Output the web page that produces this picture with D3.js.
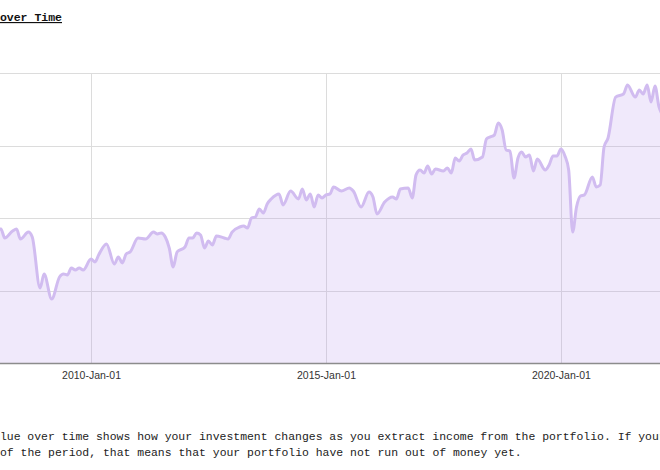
<!DOCTYPE html>
<html>
<head>
<meta charset="utf-8">
<script src="https://cdn.jsdelivr.net/npm/d3@7"></script>
<style>
  html, body { margin: 0; padding: 0; background: #fff; overflow: hidden; }
  svg { display: block; }
</style>
</head>
<body>
<svg id="chart" width="660" height="470"></svg>
<script>
// ---- DATA ----
const titleText = "Portfolio Value over Time";
const descLine1 = "The portfolio value over time shows how your investment changes as you extract income from the portfolio. If your portfolio still has value at the end";
const descLine2 = "of the period, that means that your portfolio have not run out of money yet.";

const dates = [
  "2007-12","2008-02","2008-03","2008-05","2008-06","2008-07","2008-09","2008-10","2008-12",
  "2009-01","2009-03","2009-05","2009-06","2009-07","2009-08","2009-09","2009-10","2009-11",
  "2010-01","2010-02","2010-03","2010-05","2010-07","2010-08","2010-09","2010-10","2010-11",
  "2011-01","2011-03","2011-05","2011-06","2011-07","2011-08","2011-09","2011-10","2011-11",
  "2012-01","2012-02","2012-03","2012-04","2012-05","2012-06","2012-07","2012-08","2012-09","2012-11","2012-12",
  "2013-01","2013-03","2013-04","2013-05","2013-06","2013-07","2013-08","2013-09","2013-10","2013-11",
  "2014-01","2014-02","2014-04","2014-06","2014-07","2014-08","2014-09","2014-10","2014-11","2014-12",
  "2015-01","2015-02","2015-03","2015-05","2015-07","2015-08","2015-10","2015-12",
  "2016-01","2016-02","2016-04","2016-06","2016-07","2016-08","2016-10","2016-11","2016-12",
  "2017-01","2017-02","2017-03","2017-04","2017-05","2017-07","2017-08","2017-09","2017-10","2017-11","2017-12",
  "2018-01","2018-02","2018-03","2018-05","2018-06","2018-07","2018-08","2018-09","2018-10","2018-11","2018-12",
  "2019-01","2019-02","2019-03","2019-04","2019-05","2019-06","2019-07","2019-09","2019-10","2019-11","2019-12",
  "2020-01","2020-02","2020-03","2020-04","2020-05","2020-06","2020-07","2020-09","2020-10","2020-11","2020-12",
  "2021-01","2021-03","2021-05","2021-06","2021-08","2021-09","2021-10","2021-11","2021-12",
  "2022-01","2022-02","2022-03"
];
const values = [
  90300,92400,86200,91000,92400,85500,90300,86900,51700,
  61400,44100,59300,61400,60700,65500,64100,65500,64100,
  71700,69700,74500,82100,68300,73100,69000,75200,76600,
  86200,85500,90300,89000,89700,86900,79300,66200,76600,
  80000,86200,86200,89700,88300,79300,84100,81400,87600,86200,85500,
  90300,93800,94500,93100,100000,100700,106200,103400,109700,113100,
  116600,109000,118600,113100,120000,112400,116600,107600,115900,113800,
  115900,116600,121400,118600,120700,118600,107600,117900,
  114500,102800,111000,114500,113100,120000,120700,113800,129700,
  133100,131000,135900,130300,133800,132400,134500,131000,141400,139300,143400,
  144800,147600,140000,142100,154500,155900,157200,165500,160700,146900,146200,
  127600,141400,145500,142100,143400,132400,140700,133100,136600,142800,142800,
  147600,142800,133100,90300,107600,115200,115900,128300,121400,122800,149000,
  155200,183400,185500,191700,183400,188300,185500,191700,180000,
  191000,176600,171000
];
const yTicks = [0, 50000, 100000, 150000, 200000];
const yMax = 200000;
const xTickYearStep = 5;

// ---- LAYOUT ----
const margin = { top: 73, left: -7 };
const width = 669.6, height = 290;

const parse = d3.timeParse("%Y-%m");
const data = dates.map((d, i) => ({ date: parse(d), value: values[i] }));

const svg = d3.select("#chart");

// Title (partly cut off at left, like the reference)
svg.append("text")
  .attr("x", 62).attr("y", 21)
  .attr("text-anchor", "end")
  .attr("font-family", "'Liberation Mono', 'DejaVu Sans Mono', monospace")
  .attr("font-size", 11.5)
  .attr("font-weight", "bold")
  .attr("fill", "#111")
  .attr("text-decoration", "underline")
  .text(titleText);

const g = svg.append("g").attr("transform", `translate(${margin.left},${margin.top})`);

const x = d3.scaleTime()
  .domain(d3.extent(data, d => d.date))
  .range([0, width]);
const y = d3.scaleLinear().domain([0, yMax]).range([height, 0]);

const xTickVals = x.ticks(d3.timeYear.every(xTickYearStep));

// grid
g.append("g").selectAll("line.h").data(yTicks).join("line")
  .attr("x1", 0).attr("x2", width)
  .attr("y1", d => Math.round(y(d)) + 0.5).attr("y2", d => Math.round(y(d)) + 0.5)
  .attr("stroke", "#dcdcdc").attr("stroke-width", 1);
g.append("g").selectAll("line.v").data(xTickVals).join("line")
  .attr("x1", d => Math.round(x(d)) + 0.5).attr("x2", d => Math.round(x(d)) + 0.5)
  .attr("y1", 0).attr("y2", height)
  .attr("stroke", "#dcdcdc").attr("stroke-width", 1);

// area + line
const area = d3.area().x(d => x(d.date)).y0(y(0)).y1(d => y(d.value)).curve(d3.curveMonotoneX);
const line = d3.line().x(d => x(d.date)).y(d => y(d.value)).curve(d3.curveMonotoneX);

g.append("path").datum(data).attr("d", area).attr("fill", "#b690ea").attr("fill-opacity", 0.2);
g.append("path").datum(data).attr("d", line)
  .attr("fill", "none").attr("stroke", "#d1bcf0").attr("stroke-width", 3)
  .attr("stroke-linejoin", "round");

// x axis
const xAxis = g.append("g").attr("transform", `translate(0,${height})`)
  .call(d3.axisBottom(x).tickValues(xTickVals).tickFormat(d3.timeFormat("%Y-%b-%d")).tickSize(0).tickPadding(8.5));
xAxis.select(".domain").attr("stroke", "#8c8c8c").attr("stroke-width", 1.3);
xAxis.selectAll("text")
  .attr("font-family", "'Liberation Sans', Arial, sans-serif")
  .attr("font-size", 10.5).attr("fill", "#333");

// description
const desc = svg.append("g")
  .attr("font-family", "'Liberation Mono', 'DejaVu Sans Mono', monospace")
  .attr("font-size", 11.45).attr("fill", "#222");
desc.append("text").attr("x", -16 * 11.45 * 0.6).attr("y", 440).text(descLine1);
desc.append("text").attr("x", 0).attr("y", 456).text(descLine2);
</script>
</body>
</html>
